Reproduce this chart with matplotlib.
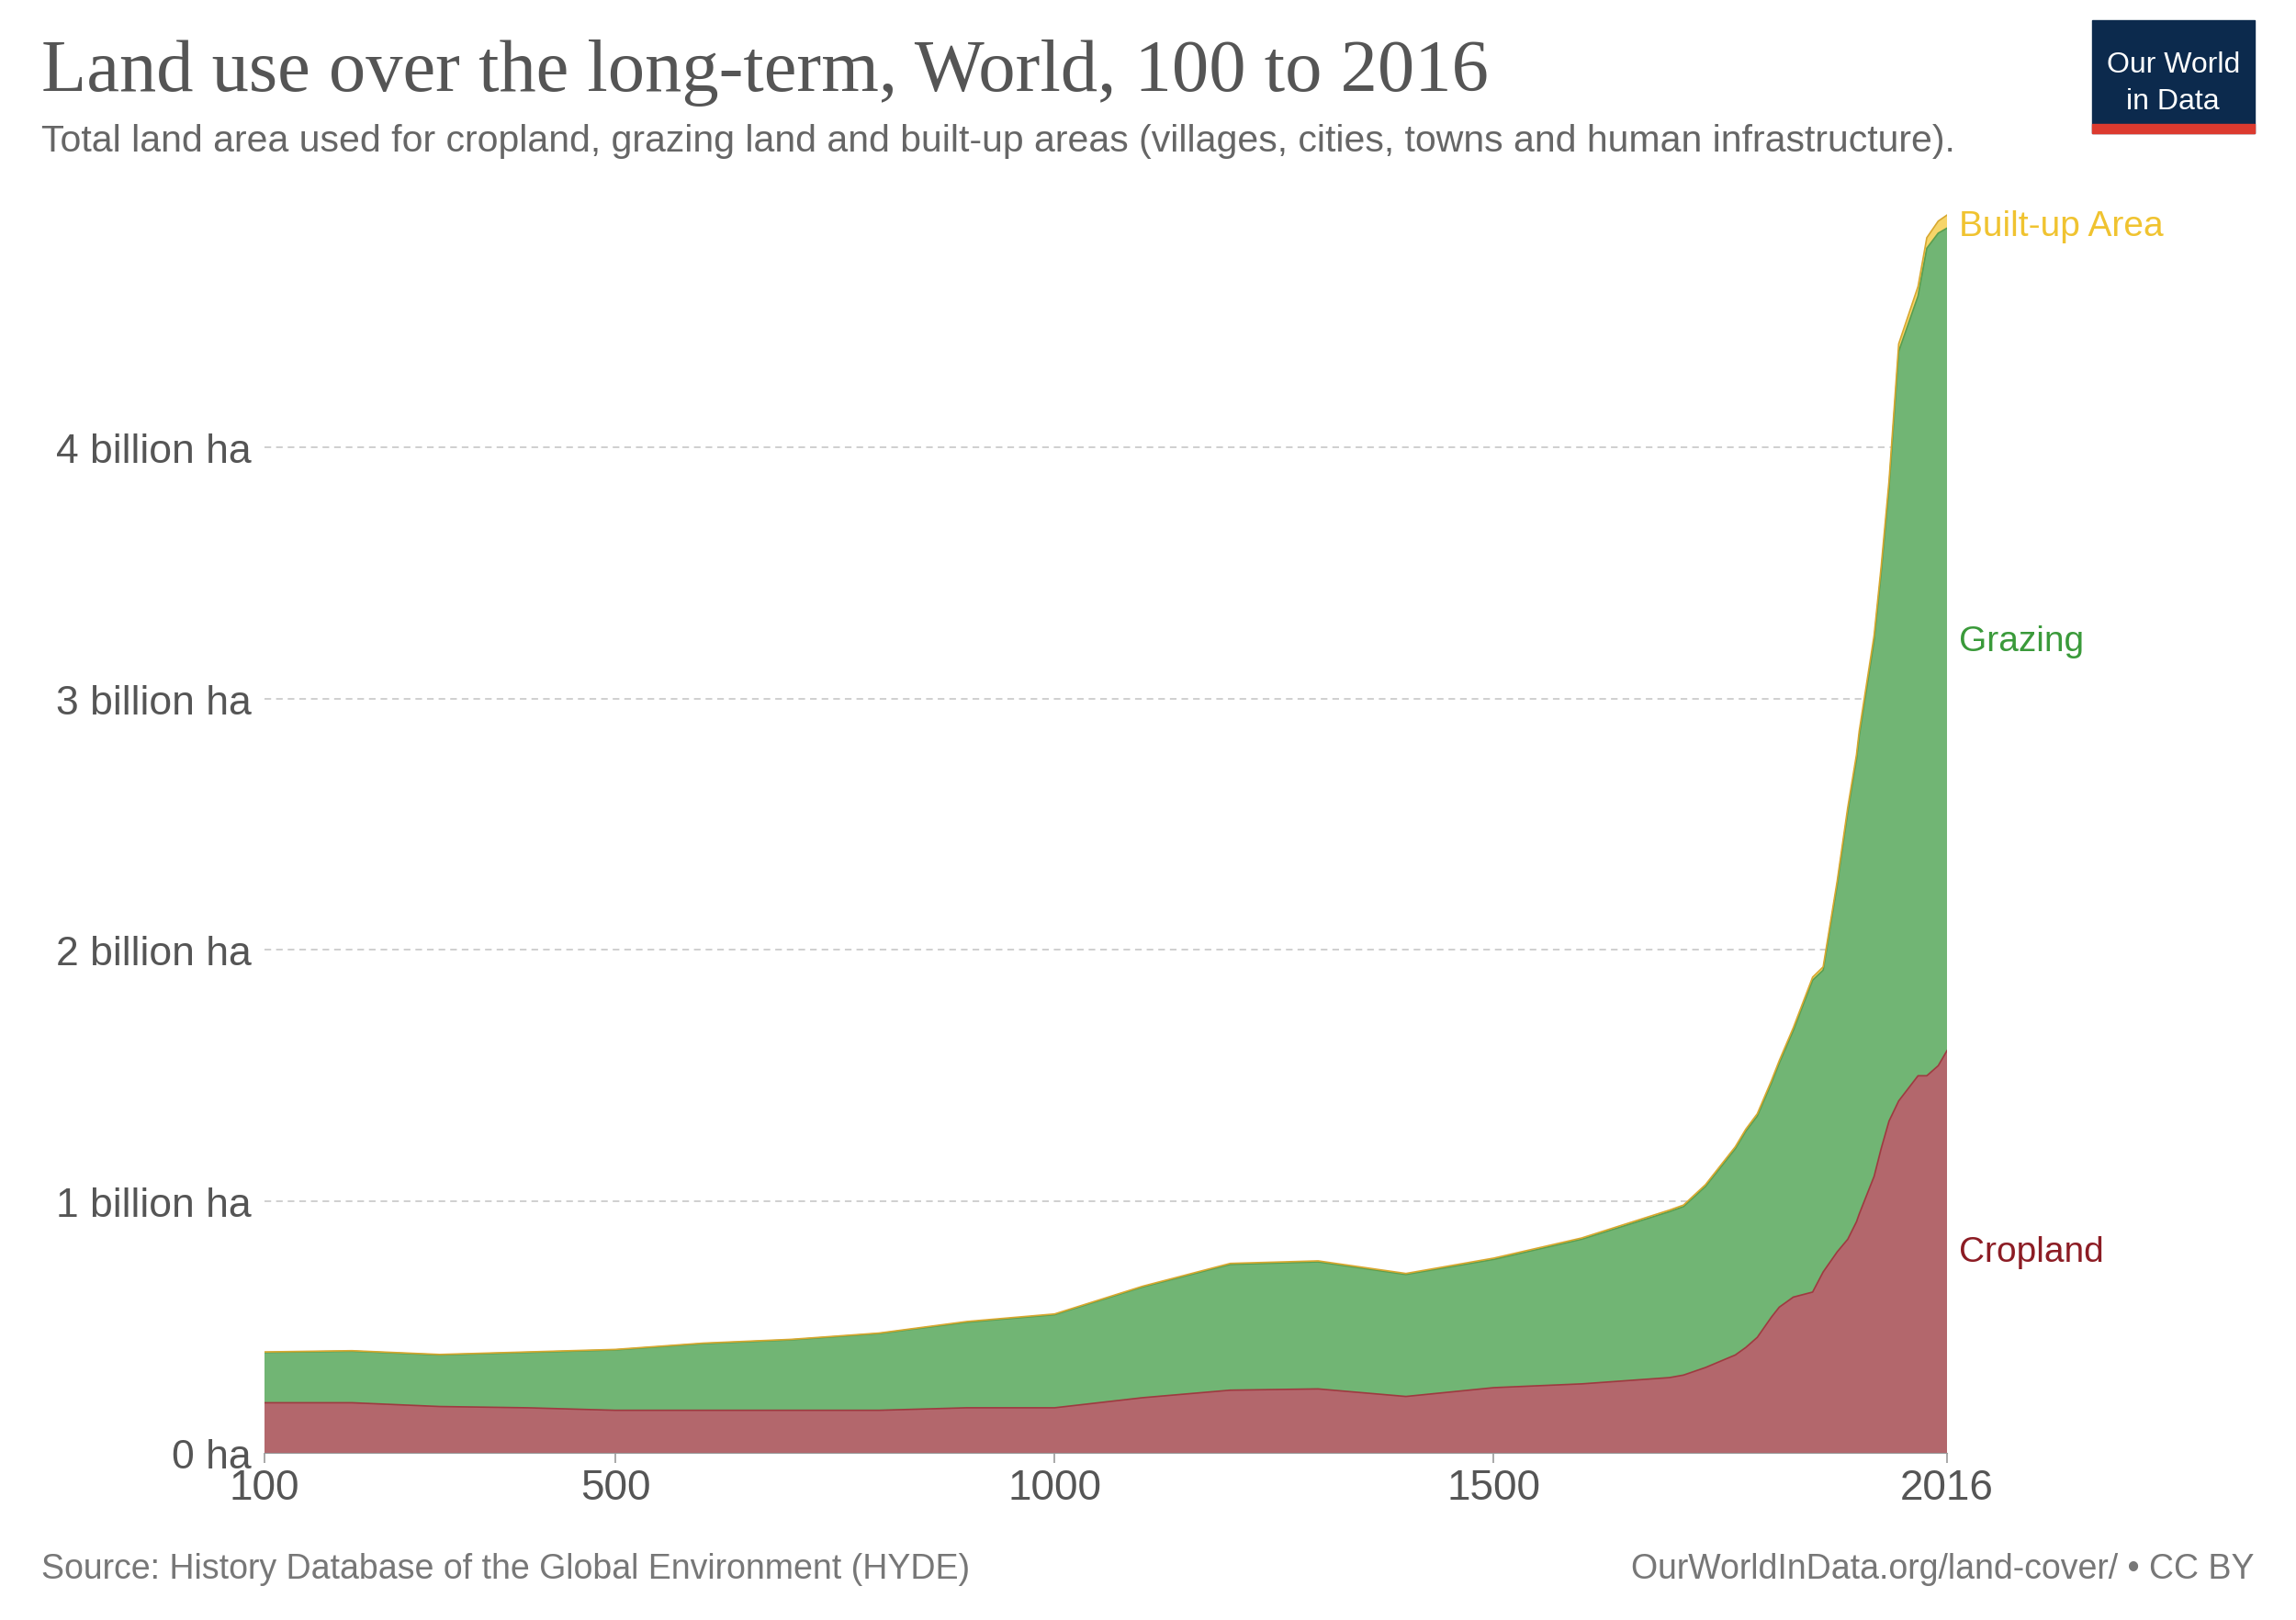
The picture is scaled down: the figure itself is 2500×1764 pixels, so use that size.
import matplotlib.pyplot as plt
from matplotlib.patches import Rectangle
import numpy as np

# data (billion ha)
years = [100, 200, 300, 400, 500, 600, 700, 800, 900, 1000, 1100, 1200, 1300, 1400,
         1500, 1600, 1700, 1716, 1741, 1775, 1787, 1800, 1816, 1825, 1841, 1863, 1875,
         1891, 1903, 1913, 1916, 1933, 1941, 1950, 1961, 1983, 1993, 2006, 2016]
total = [0.40, 0.405, 0.39, 0.40, 0.41, 0.435, 0.45, 0.475, 0.52, 0.55, 0.66, 0.75, 0.76, 0.71,
         0.77, 0.85, 0.96, 0.98, 1.06, 1.21, 1.28, 1.34, 1.47, 1.55, 1.68, 1.88, 1.92,
         2.26, 2.55, 2.76, 2.85, 3.23, 3.50, 3.84, 4.38, 4.60, 4.79, 4.85, 4.87]
cropland = [0.20, 0.20, 0.185, 0.18, 0.17, 0.17, 0.17, 0.17, 0.18, 0.18, 0.22, 0.25, 0.255, 0.225,
            0.26, 0.275, 0.30, 0.31, 0.34, 0.39, 0.42, 0.46, 0.54, 0.58, 0.62, 0.64, 0.72,
            0.80, 0.85, 0.92, 0.95, 1.10, 1.21, 1.32, 1.40, 1.50, 1.50, 1.54, 1.60]
builtup = [0.002, 0.002, 0.002, 0.002, 0.002, 0.002, 0.002, 0.002, 0.003, 0.003, 0.003, 0.004, 0.004, 0.004,
           0.005, 0.005, 0.006, 0.006, 0.007, 0.008, 0.008, 0.009, 0.01, 0.01, 0.011, 0.012, 0.013,
           0.015, 0.017, 0.018, 0.019, 0.021, 0.023, 0.025, 0.03, 0.038, 0.042, 0.048, 0.052]
grazing = list(np.array(total) - np.array(cropland))

plt.rcParams['font.family'] = ['Liberation Sans', 'DejaVu Sans']

fig = plt.figure(figsize=(25, 17.65), dpi=100)
ax = fig.add_axes([0.115, 0.103, 0.733, 0.765])

ax.stackplot(years, cropland, grazing, builtup,
             colors=["#b3676c", "#71b574", "#f6d56a"], linewidth=0)
c = np.array(cropland)
t = c + np.array(grazing)
ax.plot(years, c, color="#9e3a40", lw=1.2)
ax.plot(years, t, color="#5a9e4f", lw=1.2)
ax.plot(years, t + np.array(builtup), color="#d8a830", lw=1.2)

ax.set_xlim(100, 2016)
ax.set_ylim(0, 4.93)
ax.set_yticks([0, 1, 2, 3, 4])
ax.set_yticklabels(["0 ha", "1 billion ha", "2 billion ha", "3 billion ha", "4 billion ha"])
ax.set_xticks([100, 500, 1000, 1500, 2016])
for y in [1, 2, 3, 4]:
    ax.axhline(y, color="#cccccc", ls=(0, (4, 3)), lw=1.3, zorder=0)
for s in ["top", "right", "left"]:
    ax.spines[s].set_visible(False)
ax.spines["bottom"].set_color("#999999")
ax.tick_params(axis="y", length=0, labelsize=32, pad=10)
ax.tick_params(axis="x", length=8, labelsize=33, width=1.2, color="#999999")
for tl in ax.get_xticklabels() + ax.get_yticklabels():
    tl.set_color("#555555")

ax.text(2030, 4.88, "Built-up Area", color="#f0c330", fontsize=28, va="center")
ax.text(2030, 3.23, "Grazing", color="#3a9a3a", fontsize=28, va="center")
ax.text(2030, 0.80, "Cropland", color="#8c1c24", fontsize=28, va="center")

fig.text(0.018, 0.955, "Land use over the long-term, World, 100 to 2016",
         family="Liberation Serif", fontsize=58, color="#555555", va="center")
fig.text(0.018, 0.913, "Total land area used for cropland, grazing land and built-up areas "
         "(villages, cities, towns and human infrastructure).",
         fontsize=29.5, color="#666666", va="center")
fig.text(0.018, 0.032, "Source: History Database of the Global Environment (HYDE)",
         fontsize=27, color="#777777", va="center")
fig.text(0.982, 0.032, "OurWorldInData.org/land-cover/ • CC BY",
         fontsize=27, color="#777777", va="center", ha="right")

# logo
fig.add_artist(Rectangle((0.911, 0.917), 0.071, 0.07, transform=fig.transFigure,
                         color="#0c2a4d"))
fig.add_artist(Rectangle((0.911, 0.917), 0.071, 0.006, transform=fig.transFigure,
                         color="#dc3a2f"))
fig.text(0.9465, 0.96, "Our World", color="white", fontsize=23, ha="center", va="center")
fig.text(0.9465, 0.937, "in Data", color="white", fontsize=23, ha="center", va="center")

fig.savefig("out.png", dpi=100)
